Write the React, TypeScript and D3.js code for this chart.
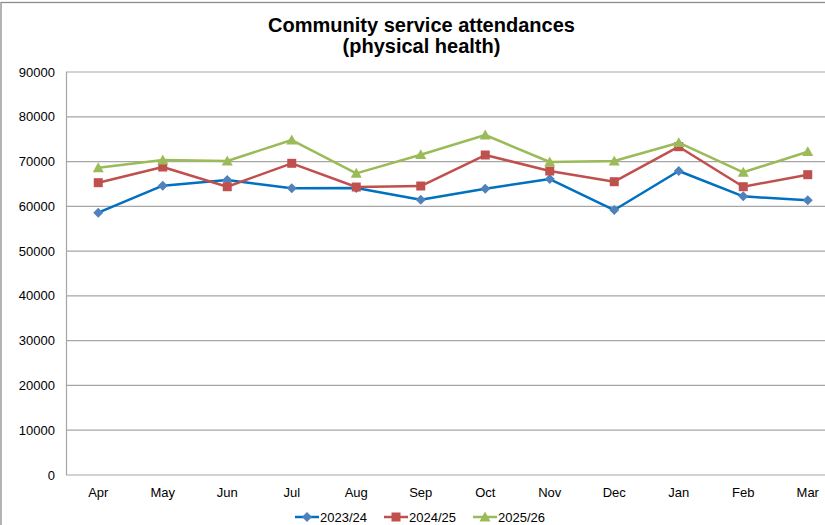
import React from "react";
import * as d3 from "d3";

const months = ["Apr", "May", "Jun", "Jul", "Aug", "Sep", "Oct", "Nov", "Dec", "Jan", "Feb", "Mar"];
const s2023 = [58580, 64610, 65880, 64020, 64090, 61480, 63940, 66100, 59180, 67890, 62230, 61340];
const s2024 = [65280, 68780, 64380, 69610, 64310, 64540, 71460, 67890, 65500, 73320, 64380, 67070];
const s2025 = [68600, 70340, 70120, 74810, 67370, 71530, 75930, 69900, 70120, 74210, 67600, 72200];
const yTicks = [0, 10000, 20000, 30000, 40000, 50000, 60000, 70000, 80000, 90000];
const seriesNames = ["2023/24", "2024/25", "2025/26"];

const series = [
  { name: seriesNames[0], values: s2023, line: "#0070C0", marker: "#4F81BD", shape: "diamond" },
  { name: seriesNames[1], values: s2024, line: "#C0504D", marker: "#C0504D", shape: "square" },
  { name: seriesNames[2], values: s2025, line: "#9BBB59", marker: "#9BBB59", shape: "triangle" },
];

const FONT = "'Liberation Sans', Arial, sans-serif";

function Marker({ shape, x, y, color }: { shape: string; x: number; y: number; color: string }) {
  if (shape === "diamond") {
    const r = 5;
    return <path d={`M${x},${y - r}L${x + r},${y}L${x},${y + r}L${x - r},${y}Z`} fill={color} />;
  }
  if (shape === "square") {
    const r = 4.5;
    return <rect x={x - r} y={y - r} width={2 * r} height={2 * r} fill={color} />;
  }
  const r = 5.5;
  return <path d={`M${x},${y - r}L${x + r},${y + r * 0.8}L${x - r},${y + r * 0.8}Z`} fill={color} />;
}

export default function App() {
  const x = d3.scaleBand<string>().domain(months).range([66, 840]).paddingInner(0).paddingOuter(0);
  const y = d3.scaleLinear().domain([0, 90000]).range([475, 72]);
  const cx = (m: string) => (x(m) as number) + x.bandwidth() / 2;
  const line = d3
    .line<number>()
    .x((_, i) => cx(months[i]))
    .y((d) => y(d));

  const legendX = [295, 384, 473];

  return (
    <svg
      width={825}
      height={525}
      style={{ position: "absolute", left: 0, top: 0, background: "#fff" }}
      fontFamily={FONT}
    >
      <rect x={0} y={0} width={825} height={525} fill="#fff" />
      <rect x={1} y={2.5} width={860} height={560} fill="none" stroke="#8c8c8c" strokeWidth={1.3} />
      <text x={421.5} y={31.5} textAnchor="middle" fontSize={20} fontWeight="bold" fill="#000">
        Community service attendances
      </text>
      <text x={421.5} y={53} textAnchor="middle" fontSize={20} fontWeight="bold" fill="#000">
        (physical health)
      </text>
      {yTicks.map((t) => (
        <g key={t}>
          <line x1={66} x2={840} y1={y(t)} y2={y(t)} stroke="#a6a6a6" strokeWidth={1.2} />
          <text x={55} y={y(t) + 4.5} textAnchor="end" fontSize={13} fill="#000">
            {t}
          </text>
        </g>
      ))}
      <line x1={66.5} x2={66.5} y1={72} y2={475} stroke="#a6a6a6" strokeWidth={1.2} />
      {months.map((m) => (
        <text key={m} x={cx(m)} y={497} textAnchor="middle" fontSize={13} fill="#000">
          {m}
        </text>
      ))}
      {series.map((s) => (
        <g key={s.name}>
          <path d={line(s.values) || ""} fill="none" stroke={s.line} strokeWidth={2.5} strokeLinejoin="round" />
          {s.values.map((v, i) => (
            <Marker key={i} shape={s.shape} x={cx(months[i])} y={y(v)} color={s.marker} />
          ))}
        </g>
      ))}
      {series.map((s, i) => (
        <g key={s.name}>
          <line x1={legendX[i]} x2={legendX[i] + 24} y1={517} y2={517} stroke={s.line} strokeWidth={2.5} />
          <Marker shape={s.shape} x={legendX[i] + 12} y={517} color={s.marker} />
          <text x={legendX[i] + 25} y={521.5} fontSize={13} fill="#000">
            {s.name}
          </text>
        </g>
      ))}
    </svg>
  );
}
